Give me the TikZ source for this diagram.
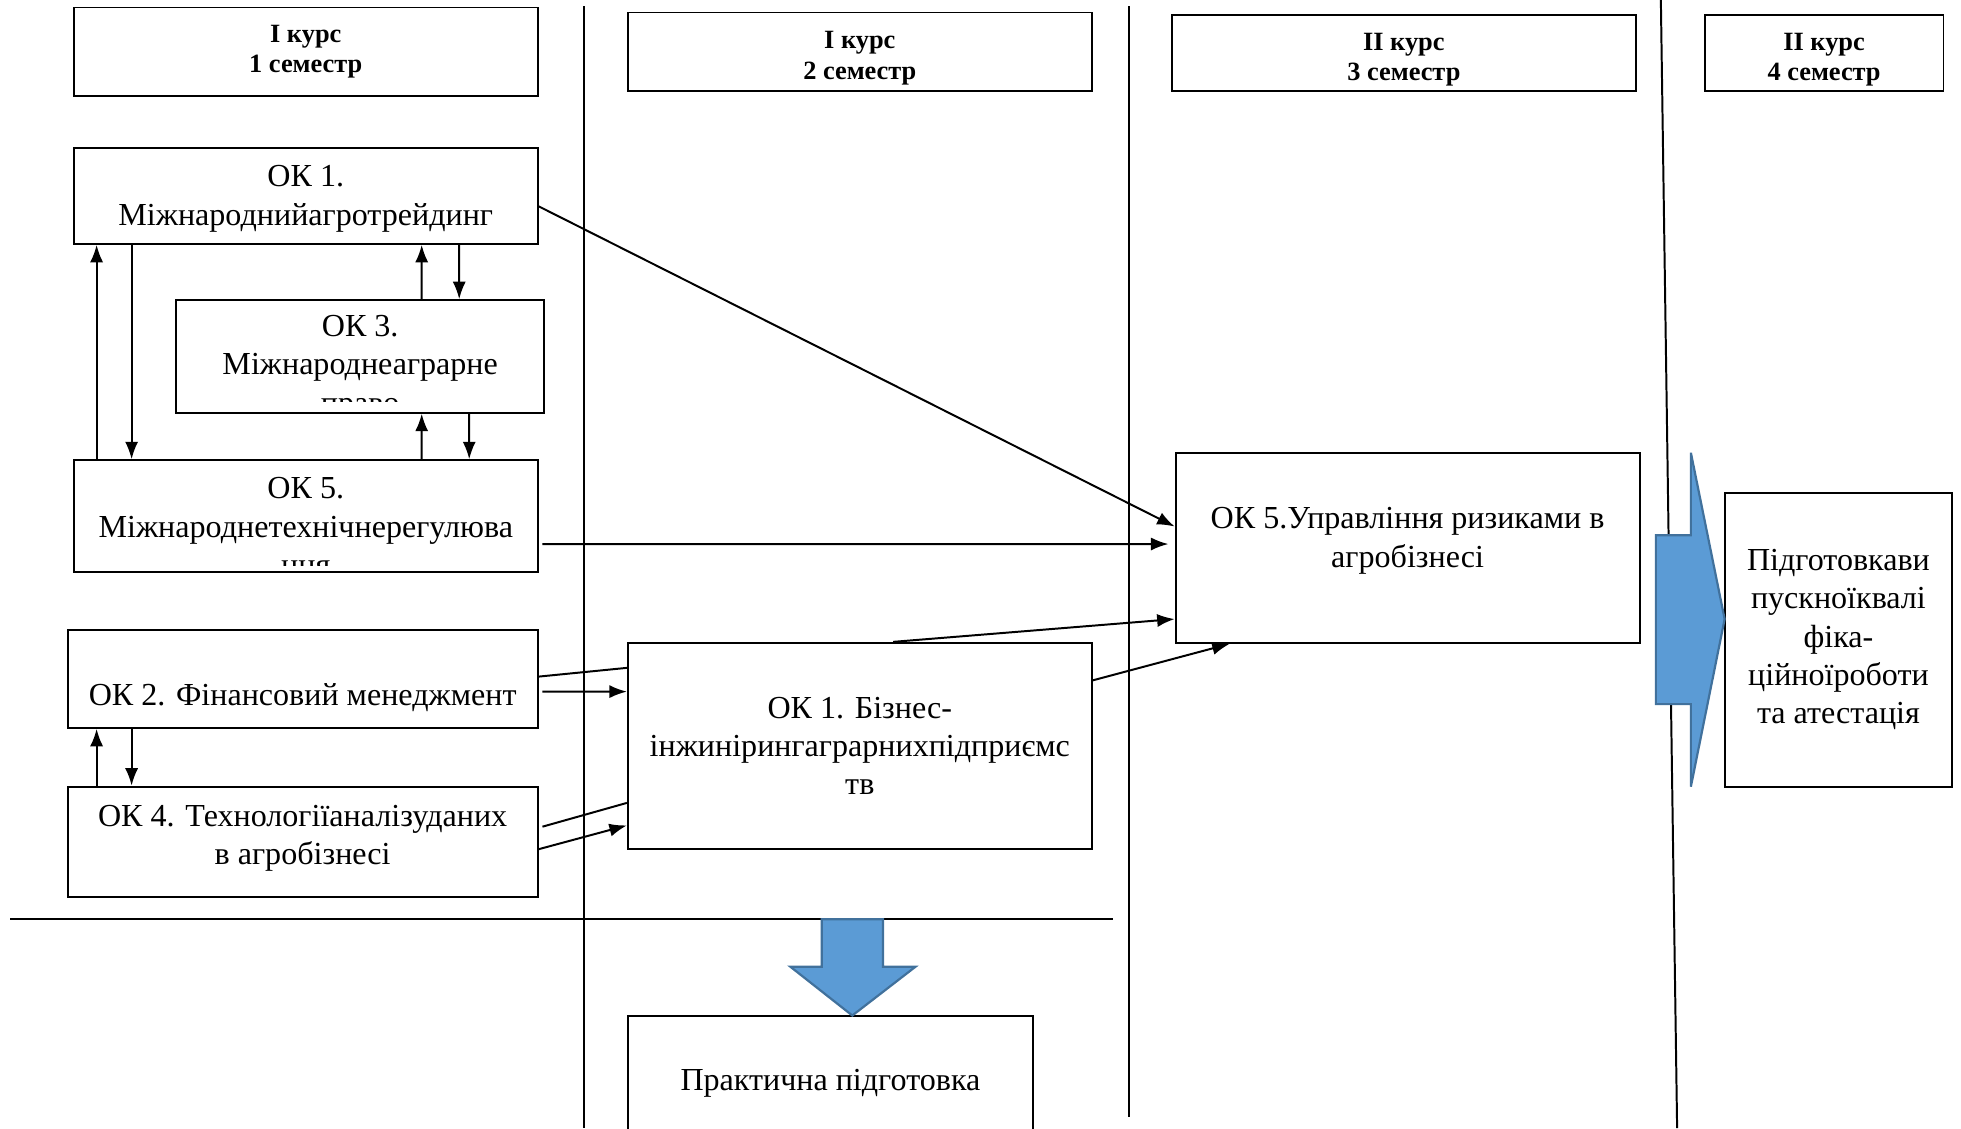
\documentclass[tikz,border=0pt]{standalone}
\usepackage{fontspec}
\setmainfont{Liberation Serif}
\usetikzlibrary{arrows.meta}
\definecolor{blockblue}{HTML}{5B9BD5}
\definecolor{blockline}{HTML}{41719C}
\newcommand{\kfont}{\fontsize{14.6}{17.4}\selectfont}
\newcommand{\hfont}{\fontsize{12}{13.7}\selectfont\bfseries}

\begin{document}
\begin{tikzpicture}[x=0.02cm, y=-0.02cm,
        kbox/.style={draw, line width=0.9pt, inner sep=0pt, align=center, font=\kfont},
        hbox/.style={draw, line width=0.9pt, inner sep=0pt, align=center, font=\hfont},
        txt/.style={inner sep=0pt, align=center, font=\kfont},
        htxt/.style={inner sep=0pt, align=center, font=\hfont},
        conn/.style={line width=0.9pt},
        arr/.style={line width=0.9pt, -{Latex[length=2.8mm,width=2.1mm]}},
        blockarrow/.style={fill=blockblue, draw=blockline, line width=1pt, line join=miter}]
        \useasboundingbox (0,0) rectangle (1568,902);

        \draw[conn] (467,5) -- (467,902);
        \draw[conn] (903,5) -- (903,893);
        \draw[conn] (1328,0) -- (1341,902);
        \draw[conn] (8,735) -- (890,735);

        \node[hbox, minimum width=7.42cm, minimum height=1.42cm] (h1) at (244.5,41.5) {І курс\\1 семестр};
        \node[hbox, minimum width=7.42cm, minimum height=1.26cm,
            label={[htxt, yshift=-0.1cm]center:{І курс\\2 семестр}}] (h2) at (687.5,41.5) {};
        \node[hbox, minimum width=7.42cm, minimum height=1.22cm,
            label={[htxt, yshift=-0.1cm]center:{ІІ курс\\3 семестр}}] (h3) at (1122.5,42.5) {};
        \node[hbox, minimum width=3.82cm, minimum height=1.22cm,
            label={[htxt, yshift=-0.1cm]center:{ІІ курс\\4 семестр}}] (h4) at (1458.5,42.5) {};

        \node[kbox, minimum width=7.42cm, minimum height=1.54cm,
            label={[txt, yshift=-0.05cm]center:{ОК 1.\\Міжнароднийагротрейдинг}}] (ok1) at (244.5,156.5) {};
        \node[kbox, minimum width=5.88cm, minimum height=1.80cm] (ok3) at (288,285) {};
        \node[kbox, minimum width=7.42cm, minimum height=1.78cm] (ok5) at (244.5,412.5) {};
        \begin{scope}
            \clip (141,240) rectangle (435,321);
            \node[txt] (ok3t) at (288,294) {ОК 3.\\Міжнароднеаграрне\\право};
        \end{scope}
        \begin{scope}
            \clip (59,368) rectangle (430,452);
            \node[txt] (ok5t) at (244.5,421) {ОК 5.\\Міжнароднетехнічнерегулюва\\ння};
        \end{scope}
        \node[kbox, minimum width=7.52cm, minimum height=1.56cm,
            label={[txt, yshift=-0.3cm]center:{ОК 2. Фінансовий менеджмент}}] (ok2) at (242,543) {};
        \node[kbox, minimum width=7.52cm, minimum height=1.76cm,
            label={[txt, yshift=0.05cm]center:{ОК 4. Технологіїаналізуданих\\в агробізнесі}}] (ok4) at (242,673) {};

        \node[kbox, minimum width=7.42cm, minimum height=3.30cm] (biz) at (687.5,596.5) {ОК 1. Бізнес-\\інжинірингаграрнихпідприємс\\тв};
        \node[kbox, minimum width=7.42cm, minimum height=3.04cm,
            label={[txt, yshift=0.11cm]center:{ОК 5.Управління ризиками в\\агробізнесі}}] (risk) at (1125.5,438) {};
        \node[kbox, minimum width=3.64cm, minimum height=4.70cm] (fin) at (1470,511.5) {Підготовкави\\пускноїквалі\\фіка-\\ційноїроботи\\та атестація};
        \node[kbox, minimum width=6.48cm, minimum height=2.16cm] (prak) at (664,866) {Практична підготовка};

        \filldraw[blockarrow] (1324,428) -- (1352,428) -- (1352,362) -- (1379,495) -- (1352,629) -- (1352,563) -- (1324,563) -- cycle;
        \filldraw[blockarrow] (657,735) -- (706,735) -- (706,773) -- (732,773) -- (681.5,812) -- (632,773) -- (657,773) -- cycle;

        \draw[arr] ([xshift=0.38cm]ok5.north west) -- ([xshift=0.38cm]ok1.south west);
        \draw[arr] ([xshift=0.94cm]ok1.south west) -- ([xshift=0.94cm]ok5.north west);
        \draw[arr] ([xshift=3.94cm]ok3.north west) -- ([xshift=5.58cm]ok1.south west);
        \draw[arr] ([xshift=6.18cm]ok1.south west) -- ([xshift=4.54cm]ok3.north west);
        \draw[arr] ([xshift=5.58cm]ok5.north west) -- ([xshift=3.94cm]ok3.south west);
        \draw[arr] ([xshift=4.70cm]ok3.south west) -- ([xshift=6.34cm]ok5.north west);
        \draw[arr] ([xshift=0.48cm]ok4.north west) -- ([xshift=0.48cm]ok2.south west);
        \draw[arr] ([xshift=1.04cm]ok2.south west) -- ([xshift=1.04cm]ok4.north west);

        \draw[arr] ([yshift=-0.17cm]ok1.east) -- ([yshift=0.34cm]risk.west);
        \draw[arr] ([xshift=0.06cm,yshift=-0.45cm]ok5.east) -- ([xshift=-0.1cm,yshift=0.06cm]risk.west);
        \draw[conn] ([yshift=0.04cm]ok2.east) -- ([yshift=1.25cm]biz.west);
        \draw[arr] ([xshift=0.06cm,yshift=-0.2cm]ok2.east) -- ([yshift=0.87cm]biz.west);
        \draw[conn] ([xshift=0.06cm,yshift=0.24cm]ok4.east) -- ([yshift=-0.91cm]biz.west);
        \draw[arr] ([yshift=-0.12cm]ok4.east) -- ([yshift=-1.27cm]biz.west);
        \draw[arr] ([xshift=4.26cm]biz.north west) -- ([yshift=-1.14cm]risk.west);
        \draw[arr] ([yshift=1.05cm]biz.east) -- ([xshift=0.88cm]risk.south west);
\end{tikzpicture}
\end{document}
